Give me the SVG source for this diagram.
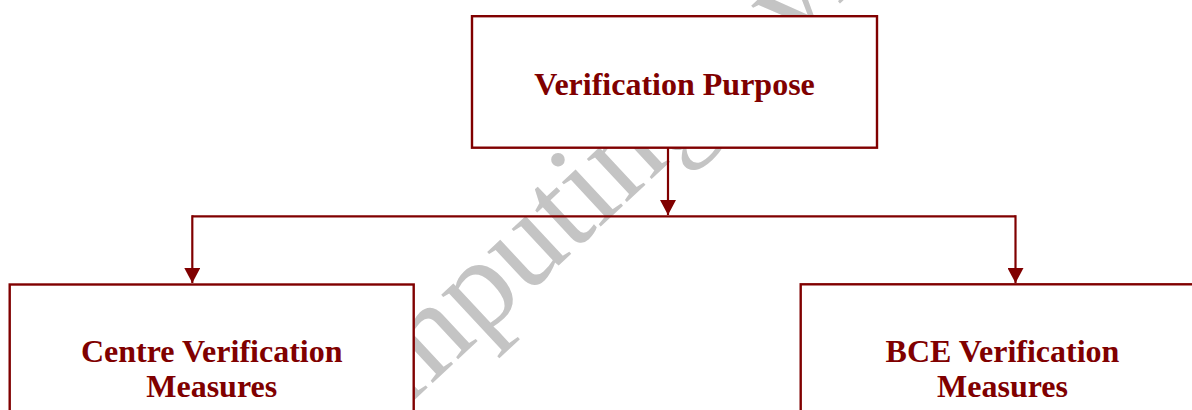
<svg xmlns="http://www.w3.org/2000/svg" width="1192" height="410" viewBox="0 0 1192 410">
  <defs>
    <style>
      .box { fill: #ffffff; stroke: #800000; stroke-width: 2.4; }
      .lbl { font-family: "Liberation Serif", "Times New Roman", serif; font-weight: bold; font-size: 32px; fill: #800000; text-anchor: middle; }
      .conn { fill: none; stroke: #800000; stroke-width: 2.2; }
      .wm { font-family: "Liberation Serif", "Times New Roman", serif; font-size: 128px; fill: #c4c4c4; }
    </style>
    <marker id="arrow" markerUnits="userSpaceOnUse" markerWidth="17" markerHeight="16" refX="15" refY="8" orient="auto">
      <path d="M0,0 L15,8 L0,16 Z" fill="#800000"/>
    </marker>
  </defs>
  <rect width="1192" height="410" fill="#ffffff"/>
  <g id="watermark">
    <text class="wm" transform="translate(318,490) rotate(-43)">computingreview</text>
  </g>
  <g id="connectors">
    <line class="conn" x1="668" y1="148" x2="668" y2="215" marker-end="url(#arrow)"/>
    <polyline class="conn" points="192.3,216.3 1015.5,216.3"/>
    <line class="conn" x1="192.3" y1="215.2" x2="192.3" y2="283" marker-end="url(#arrow)"/>
    <line class="conn" x1="1015.5" y1="215.2" x2="1015.5" y2="283" marker-end="url(#arrow)"/>
  </g>
  <g id="node-purpose">
    <rect class="box" x="472" y="16.2" width="405" height="131.5"/>
    <text class="lbl" x="674.5" y="95">Verification Purpose</text>
  </g>
  <g id="node-centre">
    <rect class="box" x="9.7" y="284.5" width="404" height="160"/>
    <text class="lbl" x="211.7" y="362.3">Centre Verification</text>
    <text class="lbl" x="211.7" y="397.3">Measures</text>
  </g>
  <g id="node-bce">
    <rect class="box" x="800.7" y="284.3" width="404" height="160"/>
    <text class="lbl" x="1002.5" y="362.3">BCE Verification</text>
    <text class="lbl" x="1002.5" y="397.3">Measures</text>
  </g>
</svg>
